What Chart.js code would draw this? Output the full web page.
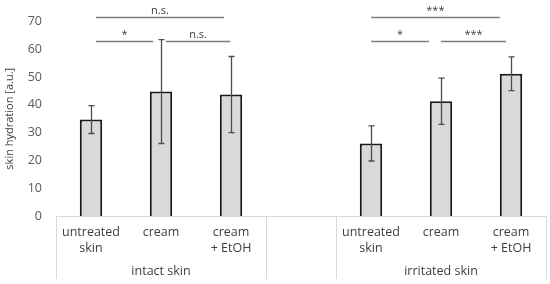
<!DOCTYPE html>
<html lang="en">
<head>
  <meta charset="UTF-8">
  <title>Skin hydration</title>
  <script src="https://cdn.jsdelivr.net/npm/chart.js"></script>
  <style>
    html, body { margin: 0; padding: 0; background: #fff; }
    #wrap { width: 550px; height: 284px; }
  </style>
</head>
<body>
  <div id="wrap"><canvas id="hydrationChart"></canvas></div>

  <script>
    // data
    const categories = [['untreated', 'skin'], 'cream', ['cream', '+ EtOH'], '', ['untreated', 'skin'], 'cream', ['cream', '+ EtOH']];
    const groupLabels = ['', 'intact skin', '', '', '', 'irritated skin', ''];
    const groupEdges = [0, 3, 4, 7]; // category boundaries where the axis box has vertical lines
    const hydration = [34.7, 44.8, 43.7, null, 26.1, 41.3, 51.2];
    const hydrationSd = [5.0, 18.7, 13.7, null, 6.3, 8.3, 6.1];
    const yMin = 0, yMax = 70, yStep = 10;

    // significance brackets (positions in category units, height in axis units)
    const bracketFrom = [0.07, 0.07, 1.07, 4.0, 4.0, 5.0];
    const bracketTo = [1.9, 0.89, 1.99, 5.84, 4.83, 5.93];
    const bracketY = [71.6, 63.1, 63.1, 71.6, 63.1, 63.1];
    const bracketText = ['n.s.', '*', 'n.s.', '***', '*', '***'];

    const FONT = '"Open Sans", sans-serif';

    const errorBars = {
      id: 'errorBars',
      afterDatasetsDraw(chart) {
        const ctx = chart.ctx;
        const y = chart.scales.y;
        const meta = chart.getDatasetMeta(0);
        ctx.save();
        ctx.strokeStyle = '#4d4d4d';
        ctx.lineWidth = 1.3;
        meta.data.forEach((bar, i) => {
          if (hydration[i] == null) return;
          const top = y.getPixelForValue(hydration[i] + hydrationSd[i]);
          const bot = y.getPixelForValue(hydration[i] - hydrationSd[i]);
          const x = Math.round(bar.x) + 0.5;
          ctx.beginPath();
          ctx.moveTo(x, top); ctx.lineTo(x, bot);
          ctx.moveTo(x - 3, top); ctx.lineTo(x + 3, top);
          ctx.moveTo(x - 3, bot); ctx.lineTo(x + 3, bot);
          ctx.stroke();
        });
        ctx.restore();
      }
    };

    const axisBox = {
      id: 'axisBox',
      afterDraw(chart) {
        const ctx = chart.ctx;
        const x = chart.scales.x;
        const y0 = chart.scales.y.getPixelForValue(0);
        const step = x.getPixelForValue(1) - x.getPixelForValue(0);
        const edge = i => x.getPixelForValue(0) - step / 2 + i * step;
        ctx.save();
        ctx.strokeStyle = '#d9d9d9';
        ctx.lineWidth = 1;
        ctx.beginPath();
        ctx.moveTo(edge(0), Math.round(y0) + 0.5);
        ctx.lineTo(edge(7), Math.round(y0) + 0.5);
        groupEdges.forEach(i => {
          const px = Math.round(edge(i)) + 0.5;
          ctx.moveTo(px, y0);
          ctx.lineTo(px, chart.height - 5);
        });
        ctx.stroke();

        // brackets
        ctx.strokeStyle = '#7f7f7f';
        ctx.lineWidth = 1.3;
        ctx.fillStyle = '#404040';
        ctx.font = '11px ' + FONT;
        ctx.textAlign = 'center';
        ctx.textBaseline = 'bottom';
        const pos = v => x.getPixelForValue(0) + v * step;
        bracketFrom.forEach((f, i) => {
          const by = Math.round(chart.scales.y.getPixelForValue(bracketY[i])) + 0.5;
          ctx.beginPath();
          ctx.moveTo(pos(f), by);
          ctx.lineTo(pos(bracketTo[i]), by);
          ctx.stroke();
          ctx.fillText(bracketText[i], (pos(f) + pos(bracketTo[i])) / 2, by - 1);
        });
        ctx.restore();
      }
    };

    new Chart(document.getElementById('hydrationChart'), {
      type: 'bar',
      data: {
        labels: categories,
        datasets: [{
          data: hydration,
          backgroundColor: '#d9d9d9',
          borderColor: '#1a1a1a',
          borderWidth: 2,
          barPercentage: 0.32,
          categoryPercentage: 1
        }]
      },
      options: {
        responsive: true,
        maintainAspectRatio: false,
        animation: false,
        layout: { padding: { top: 18, right: 4, left: 0, bottom: 0 } },
        plugins: { legend: { display: false }, tooltip: { enabled: false } },
        scales: {
          x: {
            grid: { display: false },
            border: { display: false },
            ticks: {
              autoSkip: false, maxRotation: 0, padding: 0,
              color: '#404040', font: { family: FONT, size: 12.5, lineHeight: 1.3 }
            },
            afterFit: s => { s.height = 40; }
          },
          x2: {
            type: 'category',
            position: 'bottom',
            labels: groupLabels,
            grid: { display: false },
            border: { display: false },
            ticks: {
              autoSkip: false, maxRotation: 0, padding: 0,
              color: '#404040', font: { family: FONT, size: 12.5 }
            },
            afterFit: s => { s.height = 28; }
          },
          y: {
            min: yMin, max: yMax,
            grid: { display: false, drawTicks: false },
            border: { display: false },
            ticks: {
              stepSize: yStep, padding: 14,
              color: '#595959', font: { family: FONT, size: 12.5 }
            },
            title: {
              display: true, text: 'skin hydration [a.u.]', padding: { top: 3, bottom: 0 },
              color: '#404040', font: { family: FONT, size: 11 }
            },
            afterFit: s => { s.width = 56; }
          }
        }
      },
      plugins: [errorBars, axisBox]
    });
  </script>
</body>
</html>
